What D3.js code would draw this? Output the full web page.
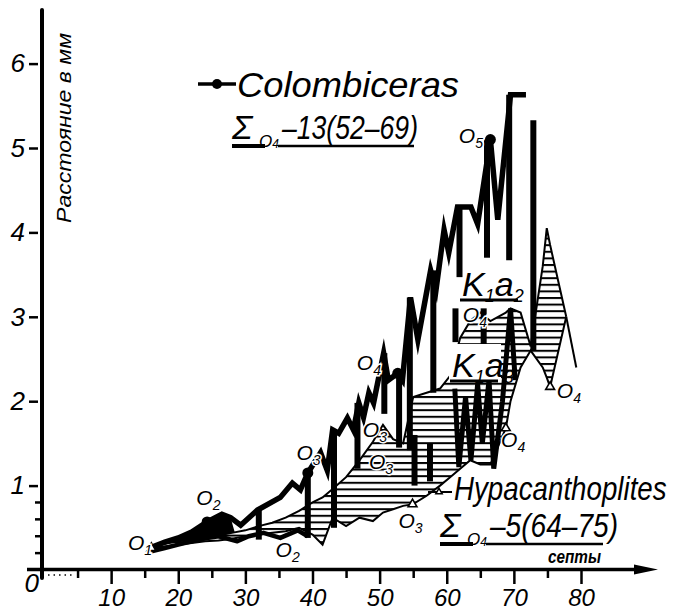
<!DOCTYPE html>
<html><head><meta charset="utf-8">
<script src="https://cdn.jsdelivr.net/npm/d3@7"></script>
<style>
html,body{margin:0;padding:0;background:#fff;}
svg{display:block;}
text{font-family:"Liberation Sans",Arial,sans-serif;font-style:italic;fill:#000;}
</style></head><body>
<svg id="chart" width="679" height="610"></svg>
<script>
// Axis ticks
const xMajorTicks = [10, 20, 30, 40, 50, 60, 70, 80];
const xMinorTicks = [5, 15, 25, 35, 45, 55, 65, 75];
const yMajorTicks = [1, 2, 3, 4, 5, 6];
const yMinorTicks = [0.2, 0.4, 0.6, 0.8];

// Colombiceras: upper envelope of septal distance (mm) by septum number
const colSepta = [16, 18, 20, 22, 24.3, 26.5, 27.8, 29.3, 31.8, 35.2, 37, 38.2, 39.3, 41.2, 42.2, 43, 43.9, 45.2, 46.1, 46.9, 47.6, 48.4, 49.1, 50.6, 51.3, 52.7, 53.4, 54.6, 55.7, 57.6, 58.4, 59.6, 60.3, 61.6, 63.6, 64.6, 66.5, 67.6, 69.5, 71.8];
const colUpper = [0.27, 0.33, 0.38, 0.45, 0.57, 0.66, 0.62, 0.53, 0.71, 0.86, 1.03, 0.95, 1.15, 1.39, 1.18, 1.66, 1.62, 1.80, 1.66, 1.98, 1.81, 2.10, 1.98, 2.57, 2.25, 2.33, 2.25, 3.23, 2.73, 3.55, 3.32, 4.03, 3.76, 4.30, 4.30, 4.10, 5.10, 4.15, 5.63, 5.63];
// Colombiceras: lower envelope in early whorls
const colLowerSepta = [16, 18, 20, 22, 24.3, 26, 28.8, 30.5, 32.7, 35.2, 37.8, 39.3];
const colLower = [0.22, 0.26, 0.30, 0.34, 0.38, 0.40, 0.34, 0.40, 0.44, 0.38, 0.47, 0.40];
// Colombiceras: lower zigzag in K1a3 zone
const colLateSepta = [61.2, 61.8, 62.8, 63.6, 64.6, 65.3, 66.3, 67.0, 68.3, 69.5, 70.2];
const colLateValues = [2.15, 1.22, 2.05, 1.30, 2.20, 1.50, 2.25, 1.20, 2.00, 3.10, 2.25];
// Colombiceras: ranges at single septa
const colBarSepta = [32, 39.3, 43.2, 46.7, 50.7, 52.9, 54.5, 58, 61.9, 66, 69.3, 72.9, 61.3, 65.5, 55.2, 57.5];
const colBarLow = [0.36, 0.38, 0.50, 1.20, 1.85, 1.45, 1.42, 2.10, 3.47, 3.70, 3.67, 2.60, 2.70, 2.60, 1.00, 1.05];
const colBarHigh = [0.71, 1.15, 1.66, 1.98, 2.57, 2.30, 3.23, 3.55, 4.30, 5.10, 5.63, 5.33, 3.10, 3.10, 1.60, 1.50];
// Colombiceras: whorl boundaries
const colDotSepta = [24.3, 39.3, 52.7, 66.5];
const colDotValues = [0.57, 1.15, 2.33, 5.10];

// Hypacanthoplites: hatched range between lower and upper values
const hypSepta = [16, 18, 20, 22, 24, 26, 28, 30, 32, 34, 36, 38, 40, 41.5, 43, 45, 47, 49, 50.5, 52, 53.5, 55, 57, 59, 60.5, 62, 63.5, 65, 66.5, 68.8, 69.5, 71, 72.5, 74.3, 74.9, 75.4, 77.8];
const hypUpper = [0.28, 0.31, 0.34, 0.36, 0.38, 0.41, 0.44, 0.47, 0.52, 0.56, 0.62, 0.70, 0.80, 0.86, 0.96, 1.10, 1.30, 1.52, 1.72, 1.55, 1.50, 2.05, 2.10, 2.15, 2.30, 2.75, 2.95, 3.05, 2.95, 3.05, 3.10, 3.05, 2.65, 3.60, 4.05, 3.85, 3.00];
const hypLower = [0.26, 0.28, 0.30, 0.32, 0.34, 0.35, 0.37, 0.40, 0.42, 0.44, 0.46, 0.50, 0.42, 0.30, 0.62, 0.52, 0.62, 0.58, 0.68, 0.72, 0.76, 0.78, 0.88, 1.00, 1.10, 1.20, 1.30, 1.25, 1.25, 1.68, 2.00, 2.40, 2.60, 2.40, 2.28, 2.17, 3.00];
const hypTailSepta = [77.8, 79.3];
const hypTailValues = [3.00, 2.40];
const hypMarkSepta = [16, 54.9, 68.8, 75.4];
const hypMarkValues = [0.26, 0.78, 1.68, 2.17];

// Whorl labels O1..O5
const stageNums = ["1", "2", "2", "3", "3", "3", "3", "4", "4", "4", "4", "5"];
const stageSepta = [12.5, 22.7, 34.5, 37.6, 47.5, 48.4, 52.8, 46.6, 62.4, 68.1, 76.4, 61.8];
const stageValues = [0.24, 0.77, 0.15, 1.30, 1.58, 1.20, 0.50, 2.37, 2.94, 1.46, 2.04, 5.06];

const svg = d3.select("#chart");
const x = d3.scaleLinear().domain([0, 80]).range([44, 581]);
const y = d3.scaleLinear().domain([0, 6]).range([570, 63.6]);

// hatching for Hypacanthoplites
const defs = svg.append("defs");
const pat = defs.append("pattern").attr("id", "hatch")
  .attr("patternUnits", "userSpaceOnUse").attr("width", 10).attr("height", 6.6);
pat.append("rect").attr("width", 10).attr("height", 6.6).attr("fill", "#fff");
pat.append("rect").attr("width", 10).attr("height", 2).attr("fill", "#000");

const line = d3.line().x(d => x(d[0])).y(d => y(d[1]));
const zip = (a, b) => a.map((v, i) => [v, b[i]]);

// ---- axes ----
const gx = svg.append("g").attr("transform", `translate(0,${y(0)})`);
gx.call(d3.axisBottom(x).tickValues(xMajorTicks).tickSize(14).tickPadding(5).tickFormat(d3.format("d")));
gx.select(".domain").remove();
gx.selectAll(".tick line").attr("stroke", "#000").attr("stroke-width", 2.5);
gx.selectAll(".tick text").attr("font-size", 24).attr("font-family", "Liberation Sans, Arial, sans-serif")
  .attr("font-style", "italic").attr("fill", "#000");
const gxm = svg.append("g").attr("transform", `translate(0,${y(0)})`);
gxm.call(d3.axisBottom(x).tickValues(xMinorTicks).tickSize(8).tickFormat(""));
gxm.select(".domain").remove();
gxm.selectAll(".tick line").attr("stroke", "#000").attr("stroke-width", 2.5);
// dotted start of the septa axis
svg.append("line").attr("x1", x(0.6)).attr("x2", x(4.5)).attr("y1", y(0) + 5).attr("y2", y(0) + 5)
  .attr("stroke", "#000").attr("stroke-width", 1.6).attr("stroke-dasharray", "1.5,4");

const gy = svg.append("g").attr("transform", `translate(${x(0) - 2},0)`);
gy.call(d3.axisLeft(y).tickValues(yMajorTicks).tickSize(0).tickPadding(17).tickFormat(d3.format("d")));
gy.select(".domain").remove();
gy.selectAll(".tick line").remove();
gy.selectAll(".tick").append("line").attr("x1", -13).attr("x2", -4).attr("stroke", "#000").attr("stroke-width", 2.5);
gy.selectAll(".tick text").attr("font-size", 26).attr("font-family", "Liberation Sans, Arial, sans-serif")
  .attr("font-style", "italic").attr("fill", "#000");
gy.selectAll(".ym").data(yMinorTicks).join("line").attr("class", "ym")
  .attr("x1", -7).attr("x2", 0).attr("y1", d => y(d)).attr("y2", d => y(d))
  .attr("stroke", "#000").attr("stroke-width", 2.5);
svg.append("text").attr("x", x(0) - 5).attr("y", y(0) + 22).attr("text-anchor", "end")
  .attr("font-size", 26).text("0");

// axis lines
svg.append("line").attr("x1", 42).attr("x2", 42).attr("y1", 10).attr("y2", 578)
  .attr("stroke", "#000").attr("stroke-width", 4).attr("stroke-linecap", "round");
svg.append("line").attr("x1", 27).attr("x2", 640).attr("y1", y(0) - 0.5).attr("y2", y(0) - 0.5)
  .attr("stroke", "#000").attr("stroke-width", 3.5);
svg.append("path").attr("d", `M634,${y(0) - 5.5}L658,${y(0) - 0.5}L634,${y(0) + 4.5}Z`).attr("fill", "#000");

// axis titles
svg.append("text").attr("transform", "translate(71,128) rotate(-90)").attr("text-anchor", "middle")
  .attr("font-size", 20).attr("textLength", 190).attr("lengthAdjust", "spacingAndGlyphs")
  .text("Расстояние в мм");
svg.append("text").attr("x", 548).attr("y", 563).attr("font-size", 19).attr("font-weight", "bold")
  .attr("textLength", 53).attr("lengthAdjust", "spacingAndGlyphs").text("септы");

// ---- Colombiceras early band ----
const bandTop = zip(colSepta, colUpper).filter(d => d[0] <= 28);
const bandBottom = zip(colLowerSepta, colLower).filter(d => d[0] <= 29).reverse();
svg.append("path").attr("d", line(bandTop.concat(bandBottom)) + "Z").attr("fill", "#000");

// ---- Hypacanthoplites hatched range ----
const hypData = hypSepta.map((s, i) => ({ s, lo: hypLower[i], hi: hypUpper[i] }));
svg.append("path").datum(hypData)
  .attr("d", d3.area().x(d => x(d.s)).y0(d => y(d.lo)).y1(d => y(d.hi)))
  .attr("fill", "url(#hatch)");
svg.append("path").attr("d", line(zip(hypSepta, hypUpper))).attr("fill", "none")
  .attr("stroke", "#000").attr("stroke-width", 2);
svg.append("path").attr("d", line(zip(hypSepta, hypLower))).attr("fill", "none")
  .attr("stroke", "#000").attr("stroke-width", 2);
svg.append("path").attr("d", line(zip(hypTailSepta, hypTailValues))).attr("fill", "none")
  .attr("stroke", "#000").attr("stroke-width", 2);

// ---- Colombiceras lines ----
svg.append("path").attr("d", line(zip(colLowerSepta, colLower))).attr("fill", "none")
  .attr("stroke", "#000").attr("stroke-width", 4.5).attr("stroke-linejoin", "round");
svg.append("path").attr("d", line(zip(colLateSepta, colLateValues))).attr("fill", "none")
  .attr("stroke", "#000").attr("stroke-width", 5).attr("stroke-linejoin", "miter");
svg.selectAll(".bar").data(colBarSepta).join("line").attr("class", "bar")
  .attr("x1", d => x(d)).attr("x2", d => x(d))
  .attr("y1", (d, i) => y(colBarLow[i])).attr("y2", (d, i) => y(colBarHigh[i]))
  .attr("stroke", "#000").attr("stroke-width", 6);
svg.append("path").attr("d", line(zip(colSepta, colUpper))).attr("fill", "none")
  .attr("stroke", "#000").attr("stroke-width", 5.5).attr("stroke-linejoin", "miter").attr("stroke-miterlimit", 6);
svg.selectAll(".cdot").data(colDotSepta).join("circle").attr("class", "cdot")
  .attr("cx", d => x(d)).attr("cy", (d, i) => y(colDotValues[i])).attr("r", 5.5).attr("fill", "#000");

// Hypacanthoplites whorl marks
const tri = d3.symbol(d3.symbolTriangle, 34);
svg.selectAll(".hmark").data(hypMarkSepta).join("path").attr("class", "hmark")
  .attr("transform", (d, i) => `translate(${x(d)},${y(hypMarkValues[i])})`)
  .attr("d", tri).attr("fill", "#fff").attr("stroke", "#000").attr("stroke-width", 1.6);

// ---- whorl labels ----
const lab = svg.selectAll(".olab").data(stageNums).join("text").attr("class", "olab")
  .attr("x", (d, i) => x(stageSepta[i])).attr("y", (d, i) => y(stageValues[i]))
  .attr("font-size", 21).attr("stroke", "#fff").attr("stroke-width", 3).attr("paint-order", "stroke");
lab.append("tspan").text("O");
lab.append("tspan").attr("dy", 5).attr("font-size", 14).text(d => d);

// ---- stage labels K1a2, K1a3 ----
svg.append("rect").attr("x", 449).attr("y", 344).attr("width", 52).attr("height", 38).attr("fill", "#fff");
function stage(xp, yp, sub, w) {
  const t = svg.append("text").attr("x", xp).attr("y", yp).attr("font-size", 34);
  t.append("tspan").text("K");
  t.append("tspan").attr("dy", 6).attr("font-size", 18).text("1");
  t.append("tspan").attr("dy", -6).text("a");
  t.append("tspan").attr("dy", 6).attr("font-size", 18).text(sub);
  svg.append("line").attr("x1", xp - 2).attr("x2", xp - 2 + w).attr("y1", yp + 4).attr("y2", yp + 4)
    .attr("stroke", "#000").attr("stroke-width", 3);
}
stage(462, 296, "2", 58);
stage(452, 377, "3", 48);

// ---- legend ----
function sigma(xp, yp, rest, restLen, lineEnd) {
  svg.append("text").attr("x", xp).attr("y", yp).attr("font-size", 34).text("Σ");
  const s = svg.append("text").attr("x", xp + 27).attr("y", yp + 8).attr("font-size", 17);
  s.append("tspan").text("O");
  s.append("tspan").attr("font-size", 12).attr("dy", 1).text("4");
  svg.append("text").attr("x", xp + 50).attr("y", yp).attr("font-size", 33)
    .attr("textLength", restLen).attr("lengthAdjust", "spacingAndGlyphs").text(rest);
  svg.append("line").attr("x1", xp).attr("x2", xp + 33).attr("y1", yp + 7).attr("y2", yp + 7)
    .attr("stroke", "#000").attr("stroke-width", 4);
  svg.append("line").attr("x1", xp + 46).attr("x2", lineEnd).attr("y1", yp + 7).attr("y2", yp + 7)
    .attr("stroke", "#000").attr("stroke-width", 2.5);
}
// Colombiceras
svg.append("line").attr("x1", 198).attr("x2", 236).attr("y1", 84).attr("y2", 84).attr("stroke", "#000").attr("stroke-width", 3.5);
svg.append("circle").attr("cx", 217).attr("cy", 84).attr("r", 5).attr("fill", "#000");
svg.append("text").attr("x", 237).attr("y", 97).attr("font-size", 35)
  .attr("textLength", 222).attr("lengthAdjust", "spacingAndGlyphs").text("Colombiceras");
sigma(232, 139, "–13(52–69)", 136, 414);
// Hypacanthoplites (horizontally condensed lettering)
svg.append("line").attr("x1", 428).attr("x2", 452).attr("y1", 492).attr("y2", 492).attr("stroke", "#000").attr("stroke-width", 2);
svg.append("path").attr("transform", "translate(439,492)").attr("d", d3.symbol(d3.symbolTriangle, 18))
  .attr("fill", "#fff").attr("stroke", "#000").attr("stroke-width", 1.5);
svg.append("g").attr("transform", "translate(454,500) scale(0.84,1)")
  .append("text").attr("x", 0).attr("y", 0).attr("font-size", 33).text("Hypacanthoplites");
sigma(440, 537, "–5(64–75)", 128, 603);
</script>
</body></html>
